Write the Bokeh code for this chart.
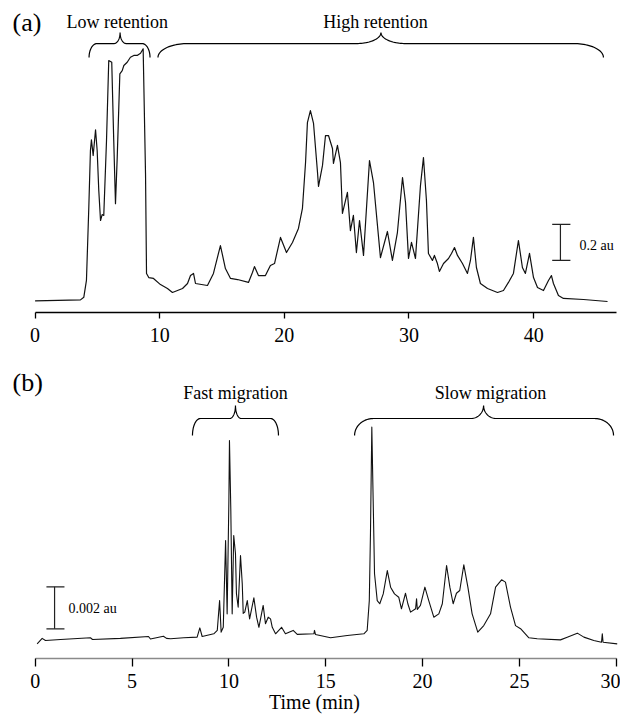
import numpy as np
from bokeh.plotting import figure
from bokeh.models import ColumnDataSource, Range1d, FixedTicker
from bokeh.layouts import column
from bokeh.core.properties import value
from bokeh.embed import file_html
from bokeh.resources import INLINE

SERIF = "Liberation Serif"

# ---------------- Panel (a): HPLC chromatogram ----------------
time_a = [0.0, 3.64, 3.91, 4.12, 4.31, 4.44, 4.52, 4.66, 4.85, 4.98,
          5.11, 5.25, 5.38, 5.51, 5.73, 5.91, 6.15, 6.31, 6.45, 6.59,
          6.80, 6.99, 7.12, 7.39, 7.65, 7.92, 8.19, 8.46, 8.67, 8.86,
          8.94, 9.12, 9.50, 10.06, 10.62, 11.02, 11.83, 12.23, 12.47, 12.71,
          12.87, 13.83, 14.31, 14.87, 15.27, 15.68, 16.24, 17.12, 17.44, 17.60,
          17.92, 18.48, 18.88, 19.21, 19.69, 20.17, 20.65, 21.13, 21.45, 21.70,
          21.85, 22.09, 22.34, 22.66, 22.74, 23.06, 23.30, 23.54, 23.86, 23.94,
          24.26, 24.50, 24.66, 25.06, 25.30, 25.54, 25.78, 26.03, 26.35, 26.83,
          27.15, 27.71, 28.27, 28.67, 29.07, 29.48, 29.72, 29.96, 30.20, 30.52,
          30.92, 31.16, 31.40, 31.56, 31.88, 32.04, 32.28, 32.44, 32.77, 33.17,
          33.41, 33.65, 33.89, 34.29, 34.69, 34.93, 35.17, 35.41, 35.73, 36.30,
          37.10, 37.58, 37.98, 38.38, 38.78, 39.10, 39.34, 39.67, 39.99, 40.31,
          40.79, 41.19, 41.43, 41.59, 41.99, 42.39, 44.00, 45.93]
signal_a = [0.004, 0.009, 0.024, 0.117, 0.524, 0.839, 0.898, 0.811, 0.954, 0.839,
            0.617, 0.450, 0.483, 0.478, 0.894, 1.339, 1.329, 0.894, 0.543, 0.802,
            1.265, 1.283, 1.311, 1.329, 1.357, 1.367, 1.367, 1.379, 1.404, 0.711,
            0.156, 0.133, 0.128, 0.094, 0.072, 0.050, 0.072, 0.100, 0.144, 0.156,
            0.100, 0.089, 0.156, 0.311, 0.183, 0.128, 0.122, 0.106, 0.161, 0.194,
            0.144, 0.144, 0.200, 0.211, 0.356, 0.272, 0.328, 0.406, 0.517, 0.772,
            0.994, 1.061, 0.989, 0.717, 0.639, 0.756, 0.922, 0.922, 0.850, 0.767,
            0.867, 0.772, 0.489, 0.606, 0.394, 0.478, 0.272, 0.450, 0.256, 0.783,
            0.661, 0.244, 0.389, 0.228, 0.383, 0.689, 0.550, 0.239, 0.328, 0.239,
            0.644, 0.800, 0.561, 0.267, 0.228, 0.256, 0.211, 0.167, 0.211, 0.239,
            0.267, 0.300, 0.256, 0.211, 0.156, 0.228, 0.356, 0.189, 0.100, 0.072,
            0.050, 0.061, 0.106, 0.156, 0.339, 0.189, 0.156, 0.267, 0.133, 0.078,
            0.061, 0.117, 0.144, 0.100, 0.033, 0.017, 0.011, 0.000]
ticks_a = [0, 10, 20, 30, 40]

# region braces (a): start, end, tip (min)
regions_a = ["Low retention", "High retention"]
brace_a_start = [4.33, 9.86]
brace_a_end = [9.22, 45.6]
brace_a_tip = [6.82, 27.75]
brace_a_label_x = [6.59, 27.32]

# ---------------- Panel (b): CE electropherogram ----------------
time_b = [0.10, 0.36, 0.53, 1.31, 2.85, 2.96, 4.40, 5.85, 5.95, 6.62,
          6.78, 6.99, 7.67, 8.36, 8.50, 8.62, 9.22, 9.40, 9.52, 9.60,
          9.71, 9.83, 9.91, 10.00, 10.03, 10.10, 10.17, 10.25, 10.34, 10.39,
          10.48, 10.60, 10.69, 10.74, 10.82, 10.95, 11.07, 11.29, 11.43, 11.55,
          11.77, 11.89, 12.03, 12.15, 12.24, 12.41, 12.72, 12.92, 13.32, 13.53,
          14.39, 14.42, 14.47, 15.25, 16.11, 16.97, 17.14, 17.25, 17.31, 17.38,
          17.45, 17.52, 17.66, 17.79, 17.97, 18.18, 18.35, 18.55, 18.77, 18.91,
          19.12, 19.24, 19.38, 19.64, 19.69, 19.73, 19.89, 20.12, 20.32, 20.58,
          20.84, 21.02, 21.24, 21.41, 21.58, 21.75, 21.92, 22.13, 22.34, 22.56,
          22.85, 23.16, 23.51, 23.77, 24.08, 24.28, 24.54, 24.80, 25.06, 25.49,
          25.92, 27.12, 27.47, 27.99, 28.33, 28.84, 29.24, 29.28, 29.32, 30.05]
signal_b = [-0.00016, 0.00010, 0.00000, 0.00005, 0.00013, 0.00005, 0.00010, 0.00019, 0.00007, 0.00020,
            0.00010, 0.00008, 0.00013, 0.00016, 0.00060, 0.00019, 0.00032, 0.00048, 0.00190, 0.00040,
            0.00063, 0.00476, 0.00127, 0.00667, 0.00952, 0.00619, 0.00127, 0.00500, 0.00414, 0.00224,
            0.00159, 0.00405, 0.00271, 0.00129, 0.00135, 0.00190, 0.00103, 0.00203, 0.00111, 0.00063,
            0.00167, 0.00080, 0.00111, 0.00103, 0.00063, 0.00032, 0.00063, 0.00032, 0.00048, 0.00029,
            0.00032, 0.00048, 0.00029, 0.00013, 0.00024, 0.00032, 0.00048, 0.00190, 0.00508, 0.01016,
            0.00667, 0.00318, 0.00190, 0.00175, 0.00222, 0.00333, 0.00254, 0.00222, 0.00206, 0.00151,
            0.00225, 0.00175, 0.00135, 0.00151, 0.00199, 0.00148, 0.00167, 0.00254, 0.00190, 0.00111,
            0.00127, 0.00175, 0.00357, 0.00254, 0.00175, 0.00225, 0.00238, 0.00360, 0.00254, 0.00127,
            0.00040, 0.00071, 0.00127, 0.00254, 0.00289, 0.00278, 0.00159, 0.00071, 0.00056, 0.00013,
            0.00008, 0.00003, 0.00016, 0.00035, 0.00016, 0.00000, -0.00008, 0.00032, -0.00008, -0.00016]
ticks_b = [0, 5, 10, 15, 20, 25, 30]

regions_b = ["Fast migration", "Slow migration"]
brace_b_start = [8.12, 16.49]
brace_b_end = [12.56, 29.86]
brace_b_tip = [10.34, 23.15]
brace_b_label_x = [10.34, 23.51]

# scale bars
scale_a = 0.2      # au
scale_b = 0.002    # au


def brace_path(x0, x1, xt, ye, ytop, ytip, r_end, r_tip, n=24):
    th = np.linspace(0, np.pi / 2, n)
    xa = x0 + r_end * (1 - np.cos(th)); ya = ye + (ytop - ye) * np.sin(th)
    xb = xt - r_tip + r_tip * np.sin(th); yb = ytop + (ytip - ytop) * (1 - np.cos(th))
    xc = xt + r_tip * (1 - np.cos(th)); yc = ytip - (ytip - ytop) * np.sin(th)
    xd = x1 - r_end + r_end * np.sin(th); yd = ytop - (ytop - ye) * (1 - np.cos(th))
    return (np.concatenate([xa, xb, xc, xd]).tolist(),
            np.concatenate([ya, yb, yc, yd]).tolist())


def make_fig(xr, yr, height, top, bottom):
    p = figure(width=620, height=height, x_range=Range1d(*xr), y_range=Range1d(*yr),
               output_backend="svg", toolbar_location=None, y_axis_location=None,
               min_border_left=8, min_border_right=0, min_border_top=top,
               min_border_bottom=bottom)
    p.grid.visible = False
    p.outline_line_color = None
    p.background_fill_color = "white"
    ax = p.xaxis[0]
    ax.major_label_text_font = SERIF
    ax.major_label_text_font_size = "20px"
    ax.major_label_text_color = "black"
    ax.minor_tick_line_color = None
    ax.major_tick_in = 0
    ax.axis_line_width = 1.3
    ax.major_tick_line_width = 1.3
    ax.major_tick_line_color = "black"
    return p


def add_texts(p, xs, ys, texts, size, align="center"):
    src = ColumnDataSource(dict(x=xs, y=ys, t=texts))
    p.text(x="x", y="y", text="t", source=src, text_font=value(SERIF),
           text_font_size=value(size), text_align=align,
           text_baseline="alphabetic", text_color="black")


# ---------- figure (a) ----------
pa = make_fig((-2.134, 46.97), (-0.0611, 1.6278), 350, 8, 38)
pa.xaxis[0].ticker = FixedTicker(ticks=ticks_a)
pa.xaxis[0].bounds = (0, 46.65)
pa.xaxis[0].axis_line_color = "black"
pa.xaxis[0].major_tick_out = 6
pa.xaxis[0].major_label_standoff = 9
pa.line(time_a, signal_a, line_color="#111111", line_width=1.2, line_join="round")

rend_end = [0.64, 2.4]
rend_tip = [0.5, 2.0]
for s, e, t, re_, rt in zip(brace_a_start, brace_a_end, brace_a_tip, rend_end, rend_tip):
    bx, by = brace_path(s, e, t, 1.356, 1.433, 1.494, re_, rt)
    pa.line(bx, by, line_color="black", line_width=1.2)
add_texts(pa, brace_a_label_x, [1.553, 1.553], regions_a, "18px")
add_texts(pa, [-1.81], [1.55], ["(a)"], "26px", align="left")

# scale bar (a)
sb_x, sb_y0 = 42.15, 0.228
pa.segment(x0=[sb_x], y0=[sb_y0], x1=[sb_x], y1=[sb_y0 + scale_a], line_color="#222222", line_width=1.2)
pa.segment(x0=[sb_x - 0.66, sb_x - 0.66], y0=[sb_y0, sb_y0 + scale_a],
           x1=[sb_x + 0.8, sb_x + 0.8], y1=[sb_y0, sb_y0 + scale_a], line_color="#222222", line_width=1.2)
add_texts(pa, [43.68], [0.311], ["%g au" % scale_a], "14px", align="left")

# ---------- figure (b) ----------
pb = make_fig((-1.379, 30.22), (-0.000857, 0.013810), 370, 0, 62)
axb = pb.xaxis[0]
axb.ticker = FixedTicker(ticks=ticks_b)
axb.bounds = (0, 30)
axb.axis_line_color = "#8a8a8a"
axb.major_tick_out = 8
axb.major_label_standoff = 7
axb.axis_label = "Time (min)"
axb.axis_label_text_font = SERIF
axb.axis_label_text_font_size = "20px"
axb.axis_label_text_font_style = "normal"
axb.axis_label_text_color = "black"
axb.axis_label_standoff = 0
pb.line(time_b, signal_b, line_color="#111111", line_width=1.1, line_join="round")

rend_end_b = [0.41, 0.98]
rend_tip_b = [0.3, 0.65]
for s, e, t, re_, rt in zip(brace_b_start, brace_b_end, brace_b_tip, rend_end_b, rend_tip_b):
    bx, by = brace_path(s, e, t, 0.009762, 0.010571, 0.011190, re_, rt)
    pb.line(bx, by, line_color="black", line_width=1.2)
add_texts(pb, brace_b_label_x, [0.011776, 0.011776], regions_b, "18px")
add_texts(pb, [-1.17], [0.012286], ["(b)"], "26px", align="left")

sbb_x, sbb_y0 = 1.0, 0.000557
pb.segment(x0=[sbb_x], y0=[sbb_y0], x1=[sbb_x], y1=[sbb_y0 + scale_b], line_color="#222222", line_width=1.2)
pb.segment(x0=[sbb_x - 0.42, sbb_x - 0.42], y0=[sbb_y0, sbb_y0 + scale_b],
           x1=[sbb_x + 0.51, sbb_x + 0.51], y1=[sbb_y0, sbb_y0 + scale_b], line_color="#222222", line_width=1.2)
add_texts(pb, [1.72], [0.001524], ["%g au" % scale_b], "14px", align="left")

layout = column(pa, pb)
open("out.html", "w").write(file_html(layout, INLINE))
